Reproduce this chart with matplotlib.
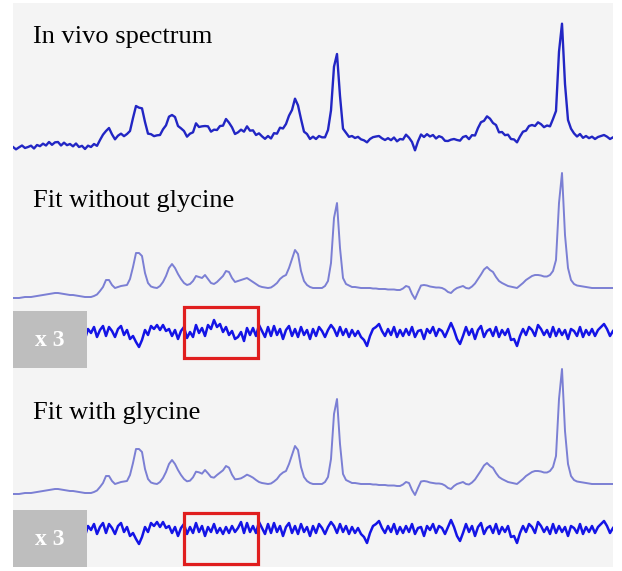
import numpy as np
import matplotlib
matplotlib.use("Agg")
import matplotlib.pyplot as plt
from matplotlib.patches import Rectangle

# spectral channel grid (201 points across the displayed range)
channels = np.arange(201)

# fitted spectrum (without glycine), intensity above baseline
fit_without = [
    -10, -10, -10, -9.5, -9, -9, -9, -8.5, -8, -7.5,
    -7, -6.5, -6, -5.5, -5, -5, -5.5, -6, -6.5, -7,
    -7, -7.5, -8, -8.5, -9, -9, -9, -8, -6.5, -3,
    1, 8, 8, 3, 0, 1, 2, 2.5, 3, 9,
    21, 35, 35, 32, 15, 5, 1.5, 0.5, 0, 2,
    6, 12, 20, 24, 20, 14, 9, 5, 3, 4,
    7, 12, 11, 10, 13, 9, 5, 4, 6, 9,
    12, 17, 16, 10, 6, 7, 8, 9, 10, 8,
    6, 4, 2, 1, 0.5, 0, 0.5, 2.5, 5, 9,
    11.5, 13, 20, 29, 38, 34, 17, 7, 3, 1,
    0, 0, 0, 0, 2, 7, 25, 70, 85, 40,
    10, 4, 2.5, 1, 1, 0.5, 0, 0, 0, 0,
    -0.5, -0.5, -1, -1, -1, -1.5, -1.5, -1.5, -2, -2,
    -0.5, 2, 1, -6, -11, -4, 2.5, 3, 2.5, 1.5,
    1, 0.5, 0.5, 0, -1.5, -4, -5, -2, 0, 1,
    2, 0, -0.5, 1.5, 4.5, 9, 13.5, 18.5, 21, 18,
    16, 11, 7, 5, 3.5, 2, 1.3, 0.6, 0, 2.5,
    5, 8, 10, 12, 13, 13, 12.5, 11.5, 11.5, 13,
    17, 28, 85, 115, 53, 20, 8, 4, 2.5, 2,
    1.5, 1, 0.5, 0, 0, 0, 0, 0, 0, 0,
    0,
]

# residual shared by both fits (displayed x3)
noise_x3 = [
    3, -4, 2, 6, -3, 0, 4, -6, 3, -2,
    4, -3, 6, -4, 2, 3, -6, 4, -2, 3,
    -4, 6, -3, 2, -6, 4, 0, 6, -4, 3,
    7, -3, 6, 2, -4, 4, 7, -2, 3, -6,
    -3, -9, -14, -7, 3, -2, 7, 4, 8, 3,
    8, 2, 4, -3, 3, -6, 2, 6, -4, 3,
    -3, 7, -2, 4, -6, 3, -2, 6, -3, 2,
    -4, 3, -3, 4, -2, 2, 8, -3, 7, -2,
    4, -3, 8, 2, -4, 6, -3, 7, -2, 4,
    -6, 3, 7, -3, 4, -4, 6, -2, 3, -6,
    4, -3, 6, 2, -4, 3, 8, 4, -3, 6,
    -2, 4, -4, 3, -3, 2, -4, -7, -13, -3,
    4, 6, 9, 2, -3, 4, -2, 6, -4, 3,
    -3, 4, -2, 6, -4, 2, 3, -6, 4, 0,
    6, -3, 4, 2, -4, 3, 10, 3, -6, -11,
    -3, 6, -2, 4, -6, 3, 7, -4, 2, 4,
    -3, 6, -4, 3, -2, 4, -7, -6, -13, -3,
    4, -2, 6, 3, -3, 8, 4, -2, 3, -4,
    6, -3, 4, -2, 3, -6, 4, 2, -3, 6,
    -4, 3, -2, 4, -3, 3, 6, 9, 4, -3,
    2,
]

# unfitted glycine signal in the residual (displayed x3), channels 57..82
glycine_start = 57
glycine_x3 = [0, -1, -2, -1, 1, 2, 1, 3, 5, 6, 7, 9, 7, 5, 3, 1,
              -2, -4, -6, -7, -5, -2, 0, 1, 0, 0]

labels = ["In vivo spectrum", "Fit without glycine", "Fit with glycine"]
scale_label = "x 3"

# ---- derived series ----
fit_without = np.array(fit_without, float)
noise_x3 = np.array(noise_x3, float)
gly = np.zeros_like(noise_x3)
gly[glycine_start:glycine_start + len(glycine_x3)] = glycine_x3
resid_without_x3 = noise_x3 + gly
resid_with_x3 = noise_x3
fit_with = fit_without + gly / 3.0
in_vivo = fit_without + resid_without_x3 / 3.0

# ---- layout ----
fig = plt.figure(figsize=(6.22, 5.71), dpi=100)
fig.patch.set_facecolor("white")
ax = fig.add_axes([13 / 622, 4 / 571, 600 / 622, 564 / 571])
ax.set_facecolor("#f4f4f4")
ax.set_xlim(0, 200)
ax.set_ylim(0, 564)
for s in ax.spines.values():
    s.set_visible(False)
ax.set_xticks([])
ax.set_yticks([])

off_invivo, off_fit1, off_res1, off_fit2, off_res2 = 429, 279, 234, 83, 37

ax.plot(channels, in_vivo + off_invivo, color="#2226c4", lw=1.7, zorder=3)
ax.plot(channels, fit_without + off_fit1, color="#7b7fd4", lw=1.4, zorder=3)
ax.plot(channels, resid_without_x3 + off_res1, color="#1414e6", lw=1.8, zorder=3)
ax.plot(channels, fit_with + off_fit2, color="#7b7fd4", lw=1.4, zorder=3)
ax.plot(channels, resid_with_x3 + off_res2, color="#1414e6", lw=1.8, zorder=3)

font = dict(family="Liberation Serif", fontsize=19, color="black")
ax.text(6.67, 524, labels[0], va="baseline", ha="left", **font)
ax.text(6.67, 360, labels[1], va="baseline", ha="left", **font)
ax.text(6.67, 148, labels[2], va="baseline", ha="left", **font)

for y0 in (199, 0):
    ax.add_patch(Rectangle((0, y0), 24.67, 57, facecolor="#bebebe",
                           edgecolor="none", zorder=5))
    ax.text(12.3, y0 + 22, scale_label, ha="center", va="baseline",
            family="Liberation Serif", fontsize=17, fontweight="bold",
            color="white", zorder=6)

for y0 in (209, 3):
    ax.add_patch(Rectangle((57, y0), 24.67, 51, facecolor="none",
                           edgecolor="#e01e1e", lw=2.3, zorder=6))

fig.savefig("out.png", dpi=100, facecolor="white")
